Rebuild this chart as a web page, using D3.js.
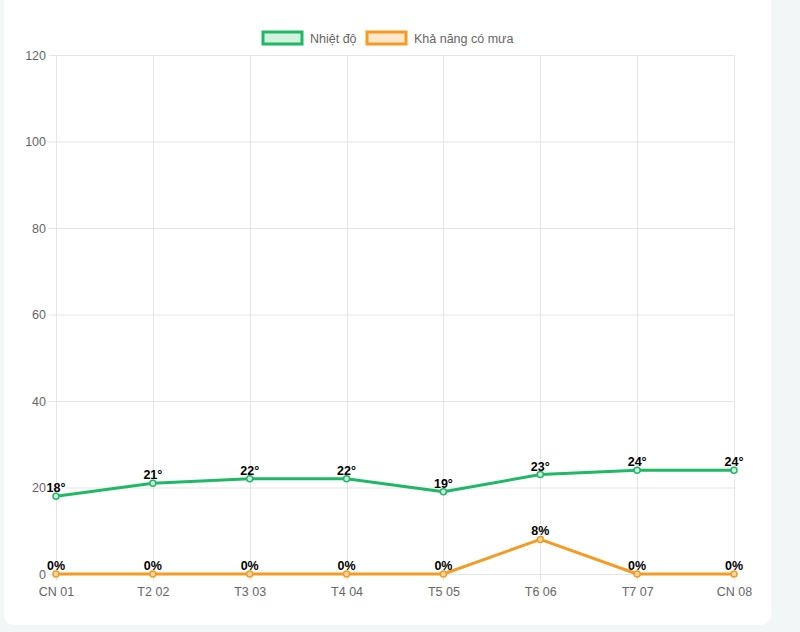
<!DOCTYPE html>
<html><head><meta charset="utf-8">
<script src="https://cdn.jsdelivr.net/npm/d3@7"></script>
<style>
html,body{margin:0;padding:0;background:#f2f6f7;}
#card{position:absolute;left:4px;top:-10px;width:767px;height:635px;background:#fff;border-radius:10px;}
svg{position:absolute;left:0;top:0;}
</style></head>
<body><div id="card"></div><svg id="c" width="800" height="632"></svg>
<script>
const categories = ["CN 01","T2 02","T3 03","T4 04","T5 05","T6 06","T7 07","CN 08"];
const temperature = [18,21,22,22,19,23,24,24];
const rainChance = [0,0,0,0,0,8,0,0];
const yTicks = [0,20,40,60,80,100,120];
const seriesNames = ["Nhiệt độ","Khả năng có mưa"];

const green = "#1fb866", orange = "#f59a23";
const font = "Liberation Sans, Arial, Helvetica, sans-serif";
const svg = d3.select("#c");
const x = d3.scalePoint().domain(categories).range([56,734]);
const y = d3.scaleLinear().domain([0,120]).range([574,55]);

// grid
const g = svg.append("g");
g.selectAll("line.h").data(yTicks).join("line")
  .attr("x1",49).attr("x2",734).attr("y1",d=>y(d)+0.5).attr("y2",d=>y(d)+0.5)
  .attr("stroke","#e5e5e5").attr("stroke-width",1);
g.selectAll("line.v").data(categories).join("line")
  .attr("x1",d=>Math.round(x(d))+0.5).attr("x2",d=>Math.round(x(d))+0.5)
  .attr("y1",55).attr("y2",581)
  .attr("stroke","#e5e5e5").attr("stroke-width",1);

// axes labels
const yAxis = d3.axisLeft(y).tickValues(yTicks).tickSize(0).tickPadding(10);
const ya = svg.append("g").attr("transform","translate(56,0)").call(yAxis);
ya.select(".domain").remove();
ya.selectAll("text").attr("font-family",font).attr("font-size",12.5).attr("fill","#666");

const xAxis = d3.axisBottom(x).tickSize(0).tickPadding(13);
const xa = svg.append("g").attr("transform","translate(0,574)").call(xAxis);
xa.select(".domain").remove();
xa.selectAll("text").attr("font-family",font).attr("font-size",12.5).attr("fill","#666");

function drawSeries(vals, color, fill, fmt){
  const line = d3.line().x((d,i)=>x(categories[i])).y(d=>y(d));
  svg.append("path").datum(vals).attr("d",line).attr("fill","none")
    .attr("stroke",color).attr("stroke-width",3).attr("stroke-linejoin","round");
  svg.append("g").selectAll("circle").data(vals).join("circle")
    .attr("cx",(d,i)=>x(categories[i])).attr("cy",d=>y(d)).attr("r",3)
    .attr("fill",fill).attr("stroke",color).attr("stroke-width",1.5);
  svg.append("g").selectAll("text").data(vals).join("text")
    .attr("x",(d,i)=>x(categories[i])).attr("y",d=>y(d)-4)
    .attr("text-anchor","middle").attr("font-family",font)
    .attr("font-size",12.5).attr("font-weight","bold").attr("fill","#000")
    .text(fmt);
}
drawSeries(rainChance, orange, "#fbd7a6", d=>d+"%");
drawSeries(temperature, green, "#d2f1df", d=>d+"°");

// legend
const legend = [{name:seriesNames[0],c:green,f:"#d2f1df",x:263},{name:seriesNames[1],c:orange,f:"#fde8cc",x:367}];
const lg = svg.append("g");
legend.forEach(l=>{
  lg.append("rect").attr("x",l.x).attr("y",32).attr("width",39).attr("height",12)
    .attr("fill",l.f).attr("stroke",l.c).attr("stroke-width",3);
  lg.append("text").attr("x",l.x+47).attr("y",42.5).attr("font-family",font)
    .attr("font-size",12.5).attr("fill","#666").text(l.name);
});
</script></body></html>
